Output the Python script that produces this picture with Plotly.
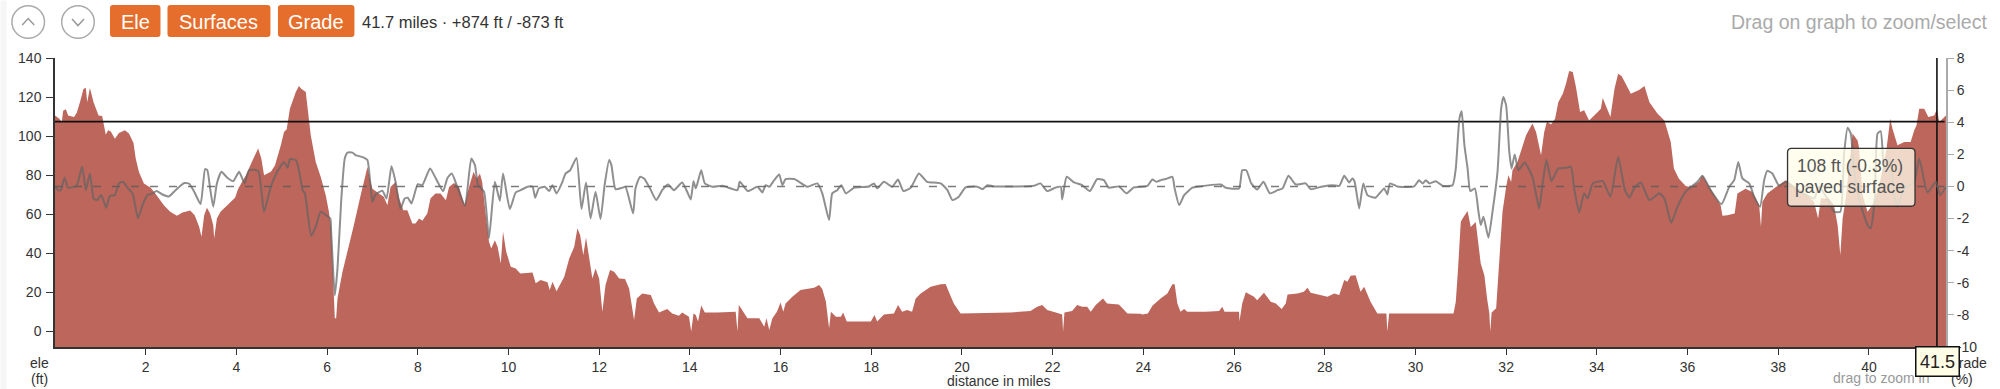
import plotly.graph_objects as go

# (miles, feet)
elevation_profile = [
(0.0,110.6),(0.09,109),(0.15,107.2),(0.18,113),(0.24,113.7),(0.29,110.6),(0.42,109.8),(0.48,112),(0.55,117.4),(0.63,124.3),
(0.68,124.6),(0.71,117.4),(0.77,124.6),(0.85,117.4),(0.96,110.6),(1.04,110.3),(1.12,100.7),(1.17,103),(1.23,102.4),(1.32,98.7),
(1.41,101.6),(1.54,103),(1.63,101.3),(1.73,96.6),(1.78,88.5),(1.85,81.7),(1.96,75.7),(2.11,73.5),(2.24,69.7),(2.40,64.6),
(2.54,61.2),(2.69,59.2),(2.81,60.9),(2.98,61.9),(3.08,59.5),(3.18,53.5),(3.23,48.4),(3.29,59.5),(3.35,63.3),(3.42,60.4),
(3.49,54.4),(3.51,47.6),(3.57,57.8),(3.65,61.2),(3.80,64.6),(3.97,68.4),(4.04,73.1),(4.21,80),(4.34,86.8),(4.48,93.6),
(4.55,88.5),(4.61,80),(4.76,81.7),(4.85,85),(4.98,95.3),(5.05,102.1),(5.11,103.5),(5.18,114),(5.31,122.6),(5.38,125.6),
(5.43,124.3),(5.53,122.6),(5.58,112.3),(5.64,100.4),(5.75,86.8),(5.86,79.1),(5.97,69.7),(6.04,61.2),(6.09,52.7),(6.14,25.4),
(6.17,6.7),(6.2,6.7),(6.23,17),(6.34,30.5),(6.45,40.8),(6.59,54.4),(6.74,69.7),(6.81,76.5),(6.89,84.2),(6.96,76.5),
(7.0,73.1),(7.14,70.6),(7.25,68.9),(7.33,64.6),(7.40,74),(7.51,76.5),(7.59,68),(7.68,62),(7.77,62),(7.88,55.2),
(7.95,55.2),(8.03,57.8),(8.10,56.6),(8.21,60.4),(8.28,68),(8.39,70.6),(8.50,70.6),(8.62,67.2),(8.69,74),(8.80,76),
(8.91,74),(9.03,64.6),(9.13,74),(9.23,81.7),(9.30,78.2),(9.37,80.8),(9.42,76.5),(9.50,59.5),(9.57,45.9),(9.62,42.5),
(9.70,46.7),(9.76,43.3),(9.83,34.8),(9.88,51),(9.95,40.8),(10.05,33.1),(10.16,32.2),(10.26,29.7),(10.53,30.2),(10.6,24.6),
(10.71,26.3),(10.86,25.1),(10.91,21.2),(10.97,25.4),(11.06,20.6),(11.23,28),(11.34,37.3),(11.45,43.3),(11.52,52.7),(11.58,49.3),
(11.65,39),(11.71,48.1),(11.8,33.9),(11.85,27.1),(11.92,32.2),(12.0,27),(12.07,10),(12.14,23.7),(12.24,31.4),(12.33,30.5),
(12.44,27.1),(12.57,26.8),(12.66,22),(12.73,10),(12.77,5.8),(12.83,16.9),(12.95,19.4),(13.14,18.6),(13.21,14.3),(13.32,9.7),
(13.5,11.4),(13.61,9.2),(13.76,8),(13.83,9.7),(13.98,7.5),(14.03,-0.1),(14.08,9.2),(14.13,8.4),(14.18,5),(14.25,13.2),
(14.33,9.7),(14.61,9.7),(14.72,9.7),(15.01,10),(15.05,-0.1),(15.08,13.5),(15.27,6.7),(15.53,6.7),(15.64,2.4),(15.69,6.7),
(15.75,0.7),(15.82,6.7),(15.92,10),(16.0,14.8),(16.06,10),(16.11,14.3),(16.26,17.7),(16.44,21.2),(16.74,22.3),(16.85,23.7),
(16.92,21.7),(17.0,15.2),(17.07,1.6),(17.11,10),(17.22,7.5),(17.33,7.5),(17.38,9.7),(17.46,5),(17.99,5),(18.07,8.4),
(18.13,5),(18.28,8.7),(18.5,9.2),(18.59,13.5),(18.68,10),(18.79,10.9),(18.9,10),(18.98,16.9),(19.09,19.4),(19.31,22.9),
(19.53,24.1),(19.64,24.2),(19.71,20.3),(19.82,14.3),(19.97,9.2),(21.07,9.7),(21.51,10.4),(21.66,12.6),(21.77,13.5),(21.88,10.9),
(22.07,9.7),(22.21,8.7),(22.23,-0.1),(22.26,9.7),(22.43,10.4),(22.54,13.5),(22.65,12.6),(22.76,12.6),(22.84,10),(22.95,13.5),
(23.11,16.9),(23.2,14.3),(23.46,13.8),(23.65,9.2),(23.94,9),(23.98,8.7),(24.1,9.2),(24.2,13.1),(24.38,16.9),(24.53,19.4),
(24.64,24.1),(24.69,24.1),(24.75,14.3),(24.82,10),(24.9,11.4),(24.97,10),(25.37,10),(25.67,10.4),(25.74,12.6),(25.79,10),
(26.11,10),(26.12,5),(26.18,14.3),(26.26,20),(26.44,17.7),(26.51,16),(26.66,19.8),(26.81,15.2),(26.92,14.3),(27.05,11.4),
(27.14,14.3),(27.18,18.9),(27.4,19.4),(27.54,20.3),(27.62,22.3),(27.69,19.8),(28.06,17.7),(28.21,19.4),(28.32,18.6),(28.43,26.3),
(28.5,25.4),(28.57,28.5),(28.68,28.8),(28.79,20.3),(28.87,22.9),(29.01,15.2),(29.16,9.2),(29.36,9.2),(29.38,-0.1),(29.42,9.2),
(30.84,9.2),(30.89,15.2),(30.94,32.2),(31.0,56),(31.04,57.8),(31.15,61.7),(31.22,53.5),(31.33,56),(31.44,34.8),(31.52,28.8),
(31.58,16.9),(31.63,9.2),(31.65,-0.1),(31.68,9.7),(31.78,11.8),(31.85,35.6),(31.92,61.2),(32.0,74),(32.05,80),(32.11,76.5),
(32.14,82.5),(32.25,86.8),(32.33,92.7),(32.44,100.4),(32.58,106.4),(32.66,102.1),(32.77,90.2),(32.84,102.1),(32.9,107.5),(32.99,105.9),
(33.08,108.9),(33.15,117.4),(33.25,121.7),(33.32,126.8),(33.39,133.3),(33.47,132.8),(33.54,125.1),(33.63,112.3),(33.72,113.2),(33.83,108),
(34.02,112.3),(34.09,114),(34.13,119.5),(34.2,115.7),(34.3,109.8),(34.39,124.3),(34.47,131.9),(34.55,130.7),(34.68,125.1),(34.75,121.7),
(34.94,123.7),(35.05,125.6),(35.16,117.4),(35.34,111.5),(35.49,108),(35.63,97),(35.7,83.4),(35.81,78.2),(35.96,74.5),(36.07,73.8),
(36.25,76.5),(36.33,80),(36.48,74),(36.62,68.9),(36.73,64.6),(36.77,59.2),(36.88,59.5),(37.04,60.4),(37.1,70.6),(37.28,73.1),
(37.43,71.4),(37.58,64.6),(37.62,53.5),(37.65,66.3),(37.76,70.6),(37.95,74),(38.17,77.4),(38.42,73.1),(38.64,69.7),(38.79,66.3),
(38.88,57.8),(38.94,68),(39.12,68),(39.23,64.6),(39.31,54.4),(39.37,39),(39.42,57.8),(39.49,68),(39.6,93.6),(39.64,101.3),
(39.75,97.8),(39.78,94.4),(39.86,69.7),(39.97,61.2),(40.12,66.3),(40.26,78.2),(40.39,93.6),(40.47,108.9),(40.52,103.8),(40.63,95.3),
(40.78,97),(40.92,97),(41.0,103),(41.05,105.5),(41.11,114),(41.22,114),(41.31,109.8),(41.44,110.6),(41.5,113.7),(41.55,107.2),
(41.7,110.6),
]

# (miles, percent)
grade_profile = [
(0,0),(0.07,-.23),(0.13,-.23),(0.21,.54),(.29,-.08),(.42,-.02),(.48,.04),(.6,1.22),(.68,-.23),(.77,.81),
(.85,-.75),(.93,-.85),(1.02,-.54),(1.13,-1.33),(1.21,-.58),(1.32,-.54),(1.41,.19),(1.5,.29),(1.61,-.12),(1.71,-.43),
(1.83,-1.99),(1.93,-1.16),(2.04,-.54),(2.15,-.43),(2.24,-.29),(2.37,-.5),(2.51,-.62),(2.66,-.23),(2.85,.21),(2.96,.17),
(3.07,-.33),(3.21,-1.1),(3.31,1.08),(3.36,1.01),(3.42,-.12),(3.49,-1.26),(3.57,.19),(3.67,.91),(3.8,.54),(3.93,.33),
(4.06,.91),(4.18,.19),(4.28,1.01),(4.48,.97),(4.61,-1.57),(4.76,-.02),(4.9,.91),(5.05,1.53),(5.13,1.16),(5.18,1.7),
(5.31,1.64),(5.38,1.01),(5.46,-.23),(5.51,-.43),(5.65,-3.08),(5.75,-2.5),(5.86,-1.57),(5.97,-1.78),(6.07,-1.99),(6.09,-2.82),
(6.17,-6.79),(6.23,-5.09),(6.31,-.95),(6.39,1.74),(6.45,2.11),(6.56,2.11),(6.63,1.95),(6.81,1.8),(6.89,1.64),(6.95,.29),
(7.0,-.95),(7.07,-.5),(7.22,-.27),(7.31,-.75),(7.42,1.26),(7.51,.29),(7.62,-1.41),(7.71,-.75),(7.78,-.7),(7.86,-1.06),
(8.0,.14),(8.1,.08),(8.27,1.12),(8.39,.54),(8.56,-.29),(8.65,.5),(8.75,.81),(8.87,-.02),(9.04,-1.2),(9.18,1.74),
(9.26,1.33),(9.33,.08),(9.46,-.33),(9.57,-3.23),(9.7,.29),(9.81,-.89),(9.88,.81),(10.03,-1.41),(10.16,-.37),(10.27,-.23),
(10.42,-.02),(10.53,-.02),(10.59,-.7),(10.67,-.12),(10.8,-.02),(10.9,-.29),(10.97,.08),(11.06,-.43),(11.19,.29),(11.26,.81),
(11.36,1.01),(11.5,1.78),(11.61,-1.41),(11.71,.25),(11.81,-1.99),(11.92,-.33),(12.03,-2.03),(12.12,.08),(12.22,1.64),(12.27,1.33),
(12.36,-.17),(12.51,-.08),(12.58,-.02),(12.75,-1.68),(12.8,-.12),(12.9,.6),(12.99,.5),(13.12,-.12),(13.26,-.85),(13.39,-.23),
(13.52,.12),(13.65,-.23),(13.83,.25),(13.94,-.33),(14.02,-.81),(14.08,.33),(14.13,-.12),(14.18,.33),(14.25,1.01),(14.33,.19),
(14.5,-.02),(14.72,.04),(15.05,-.23),(15.1,.29),(15.28,-.29),(15.49,-.02),(15.6,-.37),(15.67,.08),(15.75,-.02),(15.86,.39),
(15.97,.75),(16.04,.08),(16.11,.46),(16.3,.46),(16.41,.29),(16.59,-.02),(16.81,.19),(16.92,-.43),(17.07,-2.09),(17.14,-.43),
(17.25,-.23),(17.34,.08),(17.44,-.43),(17.62,-.08),(17.95,0),(18.06,.19),(18.13,-.12),(18.28,.29),(18.46,-.02),(18.59,.43),
(18.71,-.29),(18.87,-.08),(19.05,.81),(19.23,.29),(19.53,.19),(19.68,-.23),(19.79,-.85),(19.93,-.64),(20.08,-.06),(20.34,-.02),
(20.45,-.17),(20.56,.08),(20.71,0),(21.59,.04),(21.73,.19),(21.88,-.29),(22.07,-.06),(22.18,-.02),(22.21,-.81),(22.31,.6),
(22.47,.25),(22.54,.19),(22.65,.08),(22.82,-.29),(22.98,.46),(23.13,.39),(23.24,-.08),(23.46,0),(23.63,-.43),(23.79,-.06),
(23.94,-.02),(24.09,.04),(24.2,.43),(24.29,.29),(24.38,.39),(24.49,.46),(24.64,.6),(24.69,-.12),(24.79,-1.16),(24.9,-.54),
(25.08,-.08),(25.23,0),(25.71,.12),(25.82,-.08),(26.11,-.12),(26.18,1.01),(26.27,1.01),(26.38,.19),(26.51,-.19),(26.65,.29),
(26.79,-.43),(26.96,-.23),(27.07,-.12),(27.2,.66),(27.36,.12),(27.58,.19),(27.69,-.17),(27.95,0),(28.17,.08),(28.32,.04),
(28.43,.66),(28.54,.25),(28.61,.5),(28.66,.29),(28.76,-1.37),(28.85,.19),(28.94,-.54),(29.12,-.7),(29.31,-.12),(29.38,-.5),
(29.44,.19),(29.6,0),(29.97,0),(30.08,.39),(30.16,.19),(30.23,.39),(30.31,.19),(30.45,.33),(30.6,.04),(30.82,.08),
(30.89,1.12),(30.97,4.22),(31.02,4.68),(31.08,2.57),(31.15,1.12),(31.21,-.29),(31.31,-.12),(31.39,-1.57),(31.44,-2.4),(31.5,-1.88),
(31.61,-3.19),(31.7,-1.57),(31.81,.91),(31.89,4.84),(31.94,5.57),(32.0,5.05),(32.07,2.15),(32.12,1.12),(32.19,1.99),(32.27,1.01),
(32.41,1.49),(32.58,.6),(32.67,-.64),(32.73,-1.37),(32.8,.08),(32.89,1.64),(33.0,.33),(33.15,1.12),(33.32,1.16),(33.43,1.22),
(33.5,-.12),(33.61,-1.61),(33.72,-.43),(33.8,-.75),(33.91,.19),(34.13,.33),(34.3,-.64),(34.47,1.84),(34.62,-.23),(34.72,-.7),
(34.83,-.08),(34.97,.25),(35.16,-.85),(35.38,-.43),(35.49,-.75),(35.64,-2.26),(35.78,-1.26),(35.96,-.33),(36.11,.04),(36.22,.29),
(36.33,.66),(36.51,-.23),(36.75,-1.1),(36.92,-.02),(37.03,.39),(37.12,1.53),(37.21,.5),(37.36,.19),(37.47,-.64),(37.6,-1.26),
(37.69,.39),(37.76,.97),(37.87,.81),(38.02,.04),(38.17,.29),(38.39,-.12),(38.79,-.75),(38.9,-.02),(39.08,-.75),(39.23,-1.57),
(39.37,-1.57),(39.45,1.95),(39.53,3.66),(39.6,3.29),(39.67,1.12),(39.78,-.75),(39.97,-2.4),(40.04,-2.61),(40.13,-.75),(40.19,3.29),
(40.26,3.44),(40.34,.91),(40.45,1.74),(40.56,-.54),(40.63,-1.26),(40.78,-.12),(41.0,.29),(41.11,1.74),(41.29,-.37),(41.48,.29),
(41.57,-.54),(41.7,-.02),
]

ele_miles = [p[0] for p in elevation_profile]
ele_ft = [p[1] for p in elevation_profile]
grade_miles = [p[0] for p in grade_profile]
grade_pct = [p[1] for p in grade_profile]

x_ticks = list(range(2, 42, 2))
ele_ticks = [0, 20, 40, 60, 80, 100, 120, 140]
grade_ticks = [8, 6, 4, 2, 0, -2, -4, -6, -8, -10]
grade_labels = ["8", "6", "4", "2", "0", "-2", "-4", "-6", "-8", "-10"]
total_miles = 41.7
ele_floor = -8
ele_ceiling = 140
hover_mile = 41.5
hover_ele = 107.4

summary = "41.7 miles \u00b7 +874 ft / -873 ft"
buttons = ["Ele", "Surfaces", "Grade"]

# layout (pixels)
W, H = 2000, 389
L, R, T, B = 54.5, 1946.0, 57.5, 347.0
FONT = "Liberation Sans"
def px(x): return (x - L) / (R - L)
def py(y): return (B - y) / (B - T)

def rrect(x0, y0, x1, y1, r):
    a, b, c, d = px(x0), px(x1), py(y0), py(y1)
    rx, ry = r / (R - L), r / (B - T)
    return (f"M {a+rx} {c} L {b-rx} {c} Q {b} {c} {b} {c-ry} L {b} {d+ry} Q {b} {d} {b-rx} {d} "
            f"L {a+rx} {d} Q {a} {d} {a} {d+ry} L {a} {c-ry} Q {a} {c} {a+rx} {c} Z")

fig = go.Figure()
fig.add_trace(go.Scatter(x=ele_miles, y=[ele_floor] * len(ele_miles), mode="lines",
                         line=dict(width=0), hoverinfo="skip", showlegend=False))
fig.add_trace(go.Scatter(x=ele_miles, y=ele_ft, mode="lines", line=dict(width=0),
                         fill="tonexty", fillcolor="#BC665C", hoverinfo="skip", showlegend=False))
fig.add_trace(go.Scatter(x=[0, total_miles], y=[0, 0], yaxis="y2", mode="lines",
                         line=dict(color="rgba(90,90,90,0.8)", width=1.5, dash="8px,11px"),
                         hoverinfo="skip", showlegend=False))
fig.add_trace(go.Scatter(x=grade_miles, y=grade_pct, yaxis="y2", mode="lines",
                         line=dict(color="rgba(100,100,100,0.72)", width=2, shape="spline", smoothing=0.5),
                         hoverinfo="skip", showlegend=False))
fig.add_trace(go.Scatter(x=[0, total_miles - 0.03], y=[hover_ele, hover_ele], mode="lines",
                         line=dict(color="#111", width=1.6), hoverinfo="skip", showlegend=False))
fig.add_trace(go.Scatter(x=[hover_mile, hover_mile], y=[ele_floor, ele_ceiling], mode="lines",
                         line=dict(color="#111", width=1.6), hoverinfo="skip", showlegend=False))

shapes = []
shapes.append(dict(type="rect", xref="paper", yref="paper", x0=px(0), x1=px(6), y0=py(0), y1=py(H),
                   fillcolor="#f6f6f6", line=dict(width=0), layer="below"))
# round arrows
for cx, up in ((27.7, True), (77.5, False)):
    shapes.append(dict(type="circle", xref="paper", yref="paper", x0=px(cx-16.3), x1=px(cx+16.3),
                       y0=py(5.2), y1=py(37.8), line=dict(color="#ababab", width=1.5), fillcolor="white"))
    y1, y2 = (24.5, 18) if up else (18.5, 25)
    shapes.append(dict(type="path", xref="paper", yref="paper",
                       path=f"M {px(cx-6)} {py(y1)} L {px(cx)} {py(y2)} L {px(cx+6)} {py(y1)}",
                       line=dict(color="#999", width=1.5)))
# buttons
btn_boxes = [(109.5, 160), (167, 270), (277.5, 354)]
for x0, x1 in btn_boxes:
    shapes.append(dict(type="path", xref="paper", yref="paper", path=rrect(x0, 4.5, x1, 36.5, 3),
                       fillcolor="#E56E2D", line=dict(width=0)))
# tooltip
shapes.append(dict(type="path", xref="paper", yref="paper", path=rrect(1787.5, 148, 1915, 206, 4),
                   fillcolor="rgba(255,252,232,0.76)", line=dict(color="#333", width=1.3), layer="above"))

def note(text, x, y, size=14, color="#333", anchor="center", **kw):
    return dict(text=text, xref="paper", yref="paper", x=px(x), y=py(y), xanchor=anchor, yanchor="middle",
                showarrow=False, font=dict(family=FONT, size=size, color=color), **kw)

annos = []
for label, (x0, x1) in zip(buttons, btn_boxes):
    annos.append(note(label, (x0 + x1) / 2, 21, 20, "white"))
annos.append(note(summary, 360, 21.5, 16.5, "#333", "left"))
annos.append(note("Drag on graph to zoom/select", 1989, 21.5, 19.5, "#aaaaaa", "right"))
annos.append(note("ele", 39, 363))
annos.append(note("(ft)", 38.5, 379.5))
annos.append(note("distance in miles", 999, 381))
annos.append(note("drag to zoom in", 1881, 378, 14, "#999"))
annos.append(note("grade", 1969, 363))
annos.append(note("(%)", 1962, 379))
annos.append(note("108 ft (-0.3%)", 1850, 165.5, 17.5, "#555"))
annos.append(note("paved surface", 1850, 187, 17.5, "#555"))
annos.append(note(str(hover_mile), 1937, 362, 18, "#222", width=42, height=28,
                  bgcolor="#FFFDE6", bordercolor="#111", borderwidth=1.5, borderpad=0))

fig.update_layout(
    width=W, height=H, autosize=False, template=None,
    paper_bgcolor="white", plot_bgcolor="white", showlegend=False,
    margin=dict(l=L, r=W - R, t=T, b=H - B, pad=0),
    font=dict(family=FONT, size=14, color="#333"),
    shapes=shapes, annotations=annos,
    xaxis=dict(range=[0, total_miles], tickmode="array", tickvals=x_ticks, ticktext=[str(v) for v in x_ticks],
               ticks="outside", ticklen=6, tickcolor="#333", tickwidth=1.2, showgrid=False, zeroline=False,
               showline=True, linecolor="#333", linewidth=2, tickfont=dict(size=14, color="#333")),
    yaxis=dict(range=[ele_floor, ele_ceiling], tickmode="array", tickvals=ele_ticks, ticktext=[str(v) for v in ele_ticks],
               ticks="outside", ticklen=7, tickcolor="#333", tickwidth=1.2, showgrid=False, zeroline=False,
               showline=True, linecolor="#333", linewidth=1.5, tickfont=dict(size=14, color="#333"), ticklabelstandoff=2),
    yaxis2=dict(range=[-10, 8], overlaying="y", side="right", anchor="x", tickmode="array", tickvals=grade_ticks,
                ticktext=grade_labels, ticks="outside", ticklen=6, tickcolor="#aaa", tickwidth=1.2, showgrid=False,
                zeroline=False, showline=True, linecolor="#aaa", linewidth=2, tickfont=dict(size=14, color="#333")),
)

fig.write_html("out.html", config={"displayModeBar": False, "responsive": False},
               post_script="document.body.style.margin='0';document.documentElement.style.overflow='hidden';")
